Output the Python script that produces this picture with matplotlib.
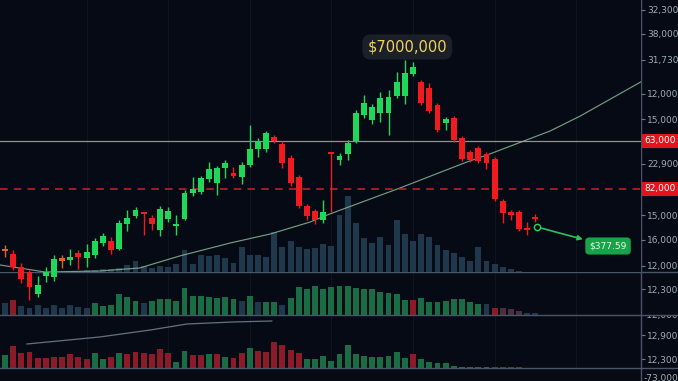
#!/usr/bin/env python3
"""
Dark trading-terminal style candlestick chart with two indicator panes.
"""

import matplotlib
matplotlib.use("Agg")
import matplotlib.pyplot as plt
import numpy as np
from matplotlib.lines import Line2D
from matplotlib.transforms import Bbox, TransformedBbox

# --- candles (price units) ---------------------------------------------------
opens = [23, 18, 5, 0, -22, -4, -5, 14, 12, 19, 14, 17, 29, 31, 23, 48, 56, 60, 54, 42,
         53, 46, 53, 79, 80, 93, 89, 104, 99, 95, 107, 123, 123, 135, 128, 114, 95, 66, 61, 52,
         120, 112, 118, 131, 157, 152, 159, 159, 176, 176, 198, 190, 184, 167, 149, 154, 134, 120, 124, 118,
         113, 71, 60, 60, 44, 55]
closes = [21, 5, -7, -15, -13, 0, 13, 11, 15, 15, 20, 31, 36, 22, 49, 54, 62, 58, 48, 63,
          61, 48, 79, 83, 94, 103, 104, 109, 96, 107, 123, 130, 139, 131, 109, 89, 66, 56, 52, 60,
          118, 116, 129, 159, 169, 165, 174, 175, 190, 199, 205, 169, 161, 142, 153, 132, 113, 112, 111, 109,
          73, 59, 57, 43, 42, 53]
highs = [27, 22, 9, 2, -4, 5, 17, 17, 23, 22, 28, 34, 39, 35, 52, 62, 65, 60, 57, 66,
         65, 57, 82, 95, 96, 110, 106, 112, 105, 110, 147, 134, 141, 137, 131, 117, 97, 68, 63, 72,
         120, 119, 132, 162, 177, 168, 180, 182, 200, 212, 210, 192, 189, 169, 155, 156, 136, 122, 126, 120,
         115, 73, 62, 62, 50, 58]
lows = [15, 2, -11, -28, -25, -10, -9, 4, 7, 3, 5, 14, 26, 18, 22, 41, 54, 37, 42, 36,
        50, 37, 52, 76, 78, 90, 77, 94, 94, 88, 105, 115, 120, 129, 104, 86, 64, 52, 48, 49,
        60, 107, 112, 129, 154, 148, 150, 137, 174, 168, 196, 167, 159, 140, 142, 130, 111, 110, 109, 103,
        71, 49, 52, 41, 37, 50]
orange_candles = [0, 7]

# volume overlay in the price pane
vol_main = [0, 0, 0, 0, 0, 0, 0, 0, 0, 0, 2, 2, 3, 3,
            4, 7, 11, 6, 4, 6, 5, 8, 22, 8, 17, 16, 17, 14, 9, 25, 17, 17, 15, 40, 25, 31, 25, 23,
            24, 28, 26, 57, 76, 49, 34, 29, 35, 27, 52, 38, 31, 38, 35, 27, 22, 19, 15, 11, 25, 11,
            8, 5, 3, 1]

# moving average line (sampled points)
ma_idx = [-0.6, 1.8, 4.9, 11.6, 16.5, 21.4, 27.6, 32.5, 37.4, 39.8, 48.4, 56.6, 59.4, 66.8, 70.5, 77.9]
ma_val = [7, 4, 0, 1, 4, 16, 29, 38, 50, 58, 84, 110, 118, 141, 156, 190]

# middle pane
osc_vol = [12, 15, 9, 7, 10, 7, 10, 7, 10, 8, 7, 12, 9, 10, 21, 18, 14, 12, 14, 16,
           16, 14, 27, 19, 19, 18, 17, 18, 16, 14, 19, 13, 13, 13, 10, 17, 28, 26, 29, 26,
           28, 29, 29, 27, 26, 26, 23, 22, 21, 15, 15, 17, 13, 13, 14, 16, 16, 13, 11, 11,
           7, 7, 6, 4, 2, 2]
osc_tone = "srssssssss" "sggggggsgg" "gggggggggs" "gsggsggggg" "gggggggggg" "rggggggggs" "rmmmss"

# bottom pane
delta_vol = [13, 22, 15, 16, 10, 10, 11, 11, 14, 11, 9, 15, 9, 11, 15, 14, 16, 15, 14, 19,
             15, 6, 17, 13, 13, 14, 14, 11, 10, 15, 20, 17, 16, 26, 23, 18, 15, 9, 9, 12,
             7, 14, 23, 14, 12, 11, 11, 12, 16, 10, 14, 9, 6, 5, 5, 2, 1, 1, 1, 1,
             1, 1, 1, 1]
delta_tone = "grrrrrrrrr" "rggrgrrrrr" "rggrrgrgrr" "grrrrrrggg" "gggggggggg" "rggggggggg" "rrrr"
delta_line_idx = [2.7, 11.6, 17.8, 22.3, 27.9, 32.7]
delta_line_val = [24, 31, 38, 44, 46, 47]

# levels and labels
resistance = 131
support = 83
resistance_label = "63,000"
support_label = "82,000"
main_ticks = [262, 238, 212, 178, 153, 108, 57, 32, 6]
main_tick_labels = ["32,300", "38,000", "31,730", "12,000", "15,000", "22,900", "15,000", "16,000", "12,000"]
osc_ticks = [26]
osc_tick_labels = ["12,300"]
delta_ticks = [33, 9]
delta_tick_labels = ["12,900", "12,300"]
peak_label = "$7000,000"
last_price = 45
last_label = "$377.59"

BG = '#060a14'
GREEN = '#1fd85a'
RED = '#f01b1f'
ORANGE = '#d8652c'
SEP = '#4a5668'
TICK_TXT = '#a3acb8'
tone_colors = {'g': '#1a6c45', 'r': '#8c1b29', 's': '#1f384b', 'm': '#4a2f40'}

W, H = 678, 381
fig = plt.figure(figsize=(W / 100, H / 100), dpi=100, facecolor=BG)

right = 641 / W
ax = fig.add_axes([0, 1 - 272 / H, right, 272 / H])
ax2 = fig.add_axes([0, 1 - 315 / H, right, 43 / H])
ax3 = fig.add_axes([0, 1 - 368 / H, right, 53 / H])
ax.set_zorder(3)

xmin, xmax = -0.61, 77.94
for a in (ax, ax2, ax3):
    a.set_facecolor(BG)
    a.set_xlim(xmin, xmax)
    for s in a.spines.values():
        s.set_visible(False)
    a.set_xticks(np.arange(10, 80, 10))
    a.tick_params(axis='x', length=0, labelbottom=False)
    a.grid(axis='x', color='#0e1521', linewidth=0.8)
    a.set_axisbelow(True)
    a.yaxis.tick_right()
    a.tick_params(axis='y', colors='#6a7888', length=3, width=0.8, pad=1.5,
                  labelsize=6.5, labelcolor=TICK_TXT)

ax.set_ylim(0, 272)
ax2.set_ylim(0, 43)
ax3.set_ylim(0, 53)

# volume overlay
ax.bar(np.arange(len(vol_main)), vol_main, width=0.72, color='#1f384c', zorder=1)

# moving average
ax.plot(ma_idx, ma_val, color='#84b894', linewidth=0.85, alpha=0.85, zorder=2)

# horizontal levels
ax.axhline(resistance, color='#cf98a8', linewidth=0.9, alpha=0.85, zorder=2)
ax.axhline(support, color='#cc2130', linewidth=1.1, dashes=(5, 4), zorder=2)

# candles
o = np.array(opens, dtype=float)
c = np.array(closes, dtype=float)
hi = np.array(highs, dtype=float)
lo = np.array(lows, dtype=float)
x = np.arange(len(o))
cols = [GREEN if cc >= oo else RED for oo, cc in zip(o, c)]
for i in orange_candles:
    cols[i] = ORANGE
ax.vlines(x, lo, hi, colors=cols, linewidth=1, zorder=4, clip_on=False)
ax.bar(x, np.maximum(np.abs(c - o), 1.6), bottom=np.minimum(o, c), width=0.72,
       color=cols, zorder=5, clip_on=False)

# peak label
peak = int(np.argmax(hi))
ax.text(peak + 0.3, hi[peak] + 13, peak_label, ha='center', va='center', fontsize=10.5,
        color='#f2d35b', zorder=6,
        bbox=dict(boxstyle='round,pad=0.35,rounding_size=0.6', fc='#1a1f29', ec='none'))

# last price marker and callout
last_x = len(o) - 0.8
ax.plot(last_x, last_price, marker='o', ms=4.5, mfc='none', mec='#2bd466', mew=1, zorder=6)
ax.annotate(last_label, xy=(last_x, last_price), xytext=(73.9, 26), ha='center', va='center',
            fontsize=6.5, color='#e6fbe9', zorder=6,
            bbox=dict(boxstyle='round,pad=0.45', fc='#17a448', ec='none'),
            arrowprops=dict(arrowstyle='<|-', color='#22c55e', lw=1.2, mutation_scale=7,
                            shrinkB=3))

# level badges on the price scale
for lvl, txt in ((resistance, resistance_label), (support, support_label)):
    ax.text(1.0295, lvl, txt, transform=ax.get_yaxis_transform(), ha='center', va='center',
            fontsize=6.5, color='white', zorder=6,
            bbox=dict(boxstyle='square,pad=0.28', fc='#e3141d', ec='none'))

ax.set_yticks(main_ticks)
ax.set_yticklabels(main_tick_labels)

# middle pane bars
ax2.bar(np.arange(len(osc_vol)), osc_vol, width=0.72,
        color=[tone_colors[t] for t in osc_tone])
ax2.set_yticks(osc_ticks)
ax2.set_yticklabels(osc_tick_labels)

# bottom pane bars and line
ax3.bar(np.arange(len(delta_vol)), delta_vol, width=0.72,
        color=[tone_colors[t] for t in delta_tone])
ax3.plot(delta_line_idx, delta_line_val, color='#7f8c99', linewidth=0.9, alpha=0.8)
ax3.set_yticks(delta_ticks)
ax3.set_yticklabels(delta_tick_labels)

# half-hidden scale labels at the pane edges
edge = ax3.text(1.004, 52.5, "-12,000", transform=ax3.get_yaxis_transform(), ha='left',
                va='center', fontsize=6.5, color=TICK_TXT, clip_on=True)
edge.set_clip_box(TransformedBbox(Bbox([[0, 0], [1, 1 - 315 / H]]), fig.transFigure))
edge.set_clip_path(None)
ax3.text(1.004, -10, "-73,000", transform=ax3.get_yaxis_transform(), ha='left',
         va='center', fontsize=6.5, color=TICK_TXT)

# pane separators and price scale border
for yp in (272, 315, 368):
    fig.add_artist(Line2D([0, 1], [1 - yp / H] * 2, transform=fig.transFigure,
                          color=SEP, linewidth=1))
fig.add_artist(Line2D([right, right], [0, 1], transform=fig.transFigure,
                      color=SEP, linewidth=1))

fig.savefig('out.png', dpi=100, facecolor=BG)
